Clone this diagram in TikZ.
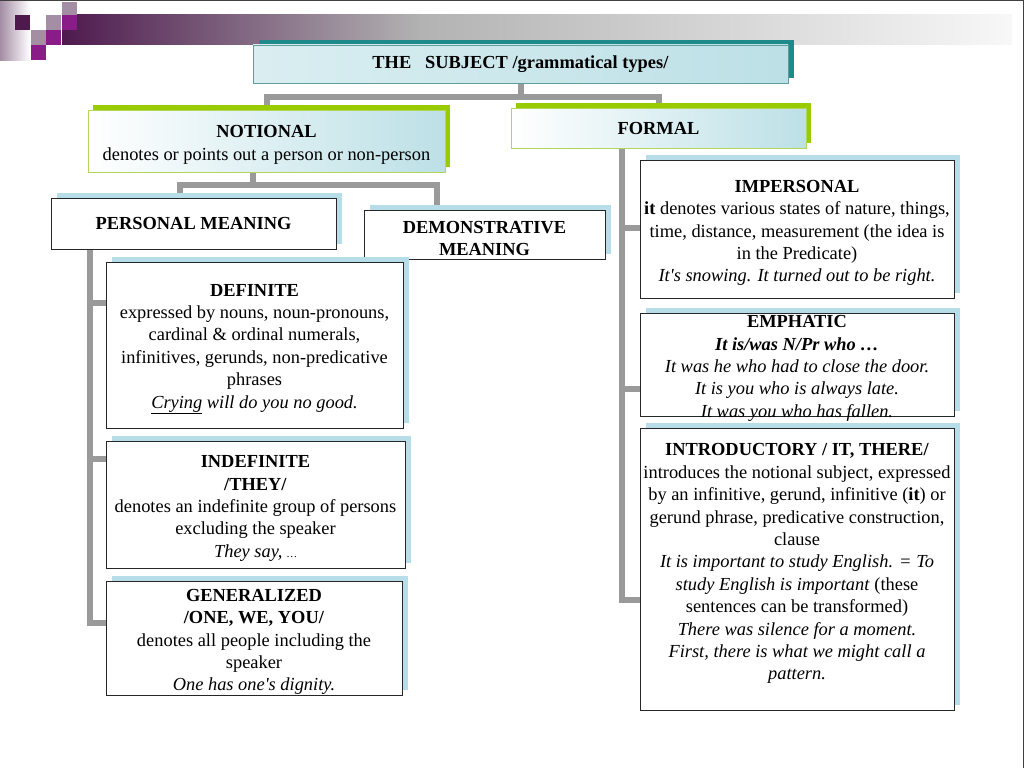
\documentclass[tikz,border=0pt]{standalone}
\usepackage{fontspec}
\setmainfont{Liberation Serif}
\usepackage{tikz}
\usetikzlibrary{shadows}
\usetikzlibrary{backgrounds}

\definecolor{linkgray}{HTML}{9A9A9A}
\definecolor{boxcyan}{HTML}{BCE0E6}
\definecolor{tealshadow}{HTML}{1E8A8A}
\definecolor{tealline}{HTML}{5E9E9E}
\definecolor{limeshadow}{HTML}{99CC00}
\definecolor{limeline}{HTML}{B2D65A}
\definecolor{paleblue}{HTML}{B7DDE8}
\definecolor{plum}{HTML}{4E1A4E}
\definecolor{orchid}{HTML}{8A1C88}
\definecolor{mauve}{HTML}{A48EA4}

\newcommand{\headroom}{\rule{0pt}{20pt}}

\begin{document}
\begin{tikzpicture}[x=1pt, y=-1pt,
        font=\fontsize{18.4}{22.4}\selectfont,
        card/.style={align=center, inner xsep=2pt, inner ysep=2pt},
        titlebox/.style={card, draw=tealline, line width=0.8pt, left color=boxcyan!55, right color=boxcyan,
            drop shadow={shadow xshift=6pt, shadow yshift=5pt, fill=tealshadow, opacity=1}},
        greenbox/.style={card, draw=limeline, line width=0.8pt, left color=white, right color=boxcyan,
            drop shadow={shadow xshift=5pt, shadow yshift=5pt, fill=limeshadow, opacity=1}},
        plainbox/.style={card, draw=black!85, line width=0.8pt, fill=white,
            drop shadow={shadow xshift=6pt, shadow yshift=5pt, fill=paleblue, opacity=1}},
        link/.style={draw=linkgray, line width=6pt}]
        \useasboundingbox (0,0) rectangle (1024,768);

        % Slide decoration
        \shade[left color=mauve, right color=white] (0,2) rectangle (30,60);
        \shade[left color=plum, right color=black!30] (62,15) rectangle (420,45);
        \shade[left color=black!30, right color=black!3] (420,15) rectangle (1012,45);
        \foreach \x/\y/\c in {15/15/plum, 62/2/mauve, 46/15/mauve, 62/15/orchid,
                31/30/mauve, 46/30/orchid, 31/45/orchid}
            \fill[\c] (\x,\y) rectangle ++(15,15);
        \draw[black!75, line width=1.2pt] (0,0.6) -- (1023.4,0.6) -- (1023.4,768);

        \path
            % Top of the tree
            (520.5,64) node[titlebox, minimum width=535pt, minimum height=38pt] (subject)
                {\textbf{THE\ \ \ SUBJECT /grammatical types/}}

            % Notional and formal
            (266.5,141) node[greenbox, minimum width=357pt, minimum height=62pt] (notional)
                {\headroom\textbf{NOTIONAL}\\ denotes or points out a person or non-person}
            (658.5,128) node[greenbox, minimum width=295pt, minimum height=40pt] (formal)
                {\textbf{FORMAL}}

            % Notional types
            (193.5,223.5) node[plainbox, minimum width=285pt, minimum height=51pt] (personal)
                {\textbf{PERSONAL MEANING}}
            (484.5,234.5) node[plainbox, inner ysep=0pt, minimum width=241pt, minimum height=49pt] (demo)
                {\headroom\textbf{DEMONSTRATIVE}\\ \textbf{MEANING}}

            % Personal meaning
            (254.5,345) node[plainbox, minimum width=297pt, minimum height=166pt] (definite)
                {\headroom\textbf{DEFINITE}\\ expressed by nouns, noun-pronouns,\\ cardinal \& ordinal numerals,\\
                infinitives, gerunds, non-predicative\\ phrases\\
                \underline{\textit{Crying}}\textit{ will do you no good.}}
            (255.5,504.5) node[plainbox, minimum width=299pt, minimum height=127pt] (indefinite)
                {\headroom\textbf{INDEFINITE}\\ \textbf{/THEY/}\\ denotes an indefinite group of persons\\
                excluding the speaker\\ \textit{They say, {\fontsize{11}{11}\selectfont\ldots}}}
            (254,638) node[plainbox, inner ysep=0pt, minimum width=296pt, minimum height=114pt] (generalized)
                {\headroom\textbf{GENERALIZED}\\ \textbf{/ONE, WE, YOU/}\\ denotes all people including the\\
                speaker\\ \textit{One has one\textquotesingle s dignity.}}

            % Formal types
            (797,229) node[plainbox, minimum width=314pt, minimum height=138pt] (impersonal)
                {\headroom\textbf{IMPERSONAL}\\ \textbf{it} denotes various states of nature, things,\\
                time, distance, measurement (the idea is\\ in the Predicate)\\
                \textit{It\textquotesingle s snowing. It turned out to be right.}}
            (797,364.5) node[plainbox, inner ysep=-5.5pt, minimum width=314pt, minimum height=103pt] (emphatic)
                {\headroom\textbf{EMPHATIC}\\ \textbf{\textit{It is/was N/Pr who \ldots}}\\
                \textit{It was he who had to close the door.}\\ \textit{It is you who is always late.}\\
                \textit{It was you who has fallen.}}
            (797,569) node[plainbox, minimum width=314pt, minimum height=282pt] (introductory)
                {\headroom\textbf{INTRODUCTORY / IT, THERE/}\\ introduces the notional subject, expressed\\
                by an infinitive, gerund, infinitive (\textbf{it}) or\\
                gerund phrase, predicative construction,\\ clause\\
                \textit{It is important to study English. = To}\\
                \textit{study English is important} (these\\ sentences can be transformed)\\
                \textit{There was silence for a moment.}\\ \textit{First, there is what we might call a}\\
                \textit{pattern.}\\ \mbox{}};

        \coordinate (lstem) at (90,0);
        \coordinate (rstem) at (622,0);

        \begin{scope}[on background layer]
            \draw[link] (subject.south) -- ++(0,14) coordinate (fork1) -| (notional.north);
            \draw[link] (fork1) -| (formal.north);
            \draw[link] ([xshift=-13.5pt]notional.south) -- ++(0,13) coordinate (fork2)
                -| ([xshift=-13.5pt]personal.north);
            \draw[link] (fork2) -| ([xshift=-47.5pt]demo.north);

            % personal meaning branches
            \draw[link] (lstem |- personal.south) |- (generalized.west |- 0,623);
            \draw[link] (lstem |- 0,303) -- (definite.west |- 0,303);
            \draw[link] (lstem |- 0,459) -- (indefinite.west |- 0,459);

            % formal branches
            \draw[link] (rstem |- formal.south) |- (introductory.west |- 0,600);
            \draw[link] (rstem |- 0,228) -- (impersonal.west |- 0,228);
            \draw[link] (rstem |- 0,389) -- (emphatic.west |- 0,389);
        \end{scope}
    \end{tikzpicture}
\end{document}
